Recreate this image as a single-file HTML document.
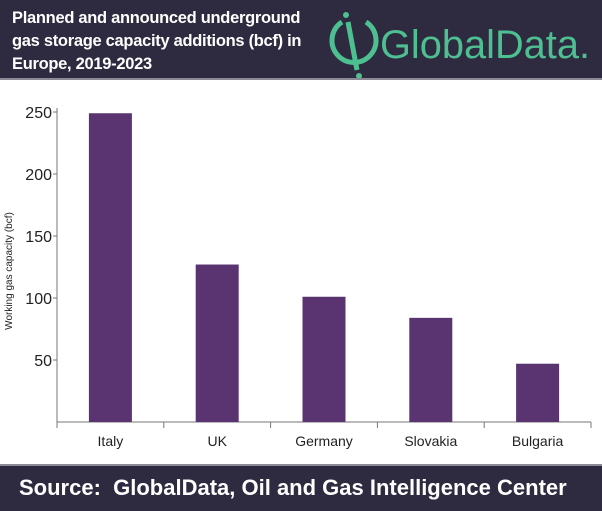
<!DOCTYPE html>
<html><head><meta charset="utf-8"><style>
body{margin:0;width:602px;height:511px;background:#fff;position:relative;overflow:hidden;font-family:"Liberation Sans",sans-serif}
#hdr{position:absolute;left:0;top:0;width:602px;height:80px;background:#2e2a40;border-bottom:2px solid #8a8a96;box-sizing:border-box}
#title{position:absolute;left:12px;top:6px;color:#fff;font-size:17px;font-weight:bold;line-height:23px;letter-spacing:-0.3px;transform:scaleX(0.97);transform-origin:left top;white-space:nowrap}
#logo{position:absolute;left:312px;top:8px}
#ftr{position:absolute;left:0;top:464px;width:602px;height:47px;background:#2e2a40;border-top:2px solid #8a8a96;box-sizing:border-box}
#src{position:absolute;left:19px;top:9px;color:#fff;font-size:22px;font-weight:bold;white-space:nowrap}
</style></head><body>
<div id="hdr">
<div id="title">Planned and announced underground<br>gas storage capacity additions (bcf) in<br>Europe, 2019-2023</div>
<svg id="logo" width="290" height="70">
<path d="M30 14 A22 22 0 1 0 54 14" fill="none" stroke="#4dbf91" stroke-width="5"/>
<line x1="36" y1="14" x2="45" y2="62" stroke="#4dbf91" stroke-width="5"/>
<circle cx="34" cy="7" r="3" fill="#4dbf91"/><circle cx="47" cy="68" r="3" fill="#4dbf91"/>
<text x="68" y="50" fill="#4dbf91" font-size="40" textLength="210" lengthAdjust="spacingAndGlyphs" font-family="Liberation Sans, sans-serif">GlobalData.</text>
</svg>
</div>
<svg id="chart" width="602" height="464" style="position:absolute;left:0;top:0"></svg>
<div id="ftr"><div id="src">Source:&nbsp; GlobalData, Oil and Gas Intelligence Center</div></div>
<script>
const categories=["Italy","UK","Germany","Slovakia","Bulgaria"];
const values=[249,127,101,84,47];
const yTicks=[50,100,150,200,250];
const NS="http://www.w3.org/2000/svg";
const svg=document.getElementById('chart');
const x0=57,x1=591,yBase=422,yPer=1.24;
const band=(x1-x0)/categories.length;
const y=v=>yBase-v*yPer;
function mk(t,a,txt){const e=document.createElementNS(NS,t);for(const k in a)e.setAttribute(k,a[k]);if(txt!==undefined)e.textContent=txt;svg.appendChild(e);return e;}
let e;
e=mk('line',{x1:x0,y1:108,x2:x0,y2:yBase,stroke:'#777','stroke-width':1});


e=mk('line',{x1:x0,y1:yBase,x2:x1,y2:yBase,stroke:'#777','stroke-width':1});


yTicks.forEach(t=>{
 e=mk('line',{x1:x0-4,y1:y(t),x2:x0,y2:y(t),stroke:'#777'});
 
 
 e=mk('text',{x:x0-5,y:y(t)+6,'text-anchor':'end','font-size':16,fill:'#222'},t);
 
 
});
for(let i=0;i<=categories.length;i++){
 e=mk('line',{x1:x0+i*band,y1:yBase,x2:x0+i*band,y2:yBase+6,stroke:'#777'});
 
 
}
categories.forEach((c,i)=>{
 const cx=x0+band*(i+0.5);
 e=mk('rect',{x:cx-21.5,y:y(values[i]),width:43,height:values[i]*yPer,fill:'#5a3470'});
 
 
 e=mk('text',{x:cx,y:yBase+24,'text-anchor':'middle','font-size':14,fill:'#222'},c);
 
 
});
e=mk('text',{x:0,y:0,transform:'translate(12,271) rotate(-90)','text-anchor':'middle','font-size':10,fill:'#222'},'Working gas capacity (bcf)');


</script>
</body></html>
